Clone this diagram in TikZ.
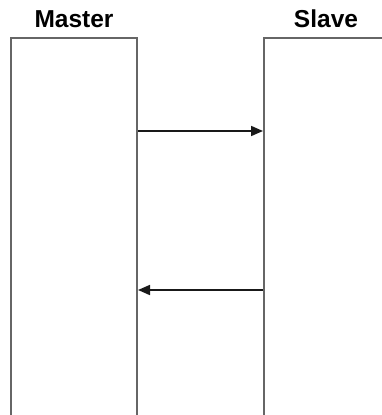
\documentclass[tikz,border=0pt]{standalone}
\usepackage{fontspec}
\setmainfont{Liberation Sans}
\usetikzlibrary{arrows.meta}
\begin{document}
\begin{tikzpicture}[x=1pt,y=-1pt,
  lane/.style={draw=black!60,line width=2pt,rectangle,minimum width=126pt,minimum height=400pt,anchor=north,inner sep=0pt},
  lanelabel/.style={font=\bfseries\fontsize{24.5}{27}\selectfont,anchor=base,inner sep=0pt},
  msg/.style={draw=black!90,line width=1.7pt,-{Triangle[length=12pt,width=10pt]}}]
\useasboundingbox (0,0) rectangle (382,415);
\clip (0,0) rectangle (382,415);
\node[lane] (master) at (74,36.5) {};
\node[lane] (slave) at (327,36.5) {};
\node[lanelabel] (mlabel) at (74,27.8) {Master};
\node[lanelabel] (slabel) at (326,27.8) {Slave};
\draw[msg] (master.east |- 0,131) -- (slave.west |- 0,131);
\draw[msg] (slave.west |- 0,290) -- (master.east |- 0,290);
\end{tikzpicture}
\end{document}
